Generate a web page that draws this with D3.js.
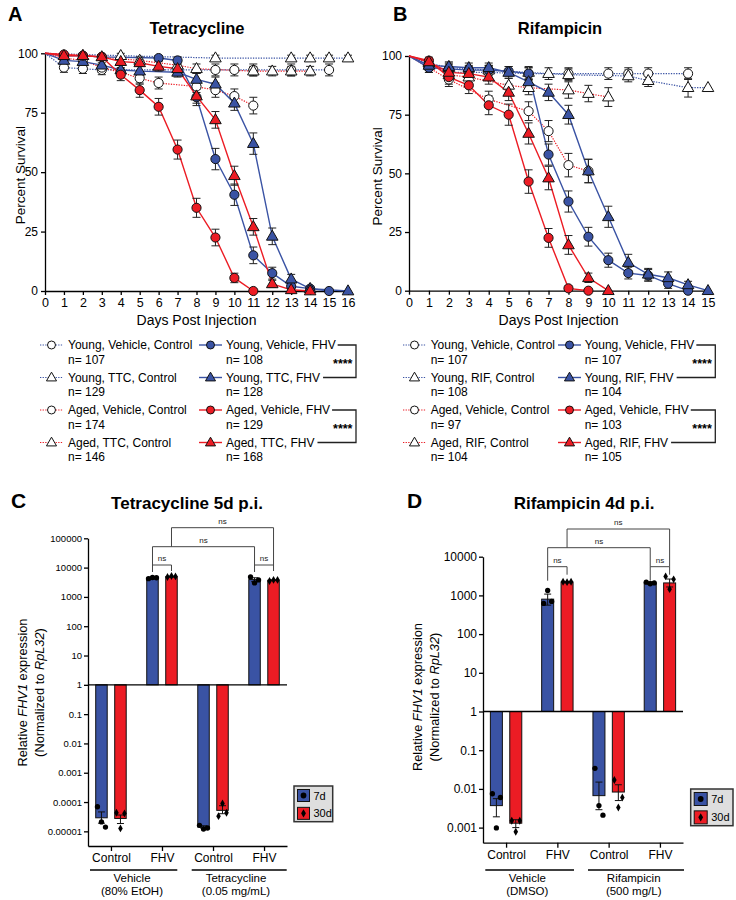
<!DOCTYPE html>
<html>
<head>
<meta charset="utf-8">
<script src="https://cdn.jsdelivr.net/npm/d3@7"></script>
<style>
body { margin: 0; background: #fff; }
svg { font-family: "Liberation Sans", Arial, Helvetica, sans-serif; }
</style>
</head>
<body>
<svg id="fig" width="736" height="900"></svg>
<script>
// ---------- data: survival curves, [day, % survival, error] ----------
var tetYoungVehCtrl = [[0,100,0],[1,94,2],[2,93.5,2],[3,93,2],[9,93,2.5],[10,93,2.5],[11,93,2.5],[13,93,2.5],[15,93,2.5]];
var tetYoungTtcCtrl = [[0,100,0],[4,99,1],[9,98,1.2],[13,98,1.2],[14,98,1.2],[15,98,1.2],[16,98,1.2]];
var tetAgedVehCtrl  = [[0,100,0],[1,98,1],[2,97,1.5],[3,94,2],[4,92,2],[5,89.5,2.5],[6,87.5,2.5],[8,86,2.5],[9,84.5,3],[10,82,3],[11,78,3.5]];
var tetAgedTtcCtrl  = [[0,100,0],[2,99,1],[5,97,1.5],[7,95,2],[8,93.5,2],[11,92.5,2],[12,92.5,2],[13,92.5,2],[14,92.5,2]];
var tetYoungVehFhv  = [[0,100,0],[1,99,1],[2,99,1],[3,98.5,1],[6,98,1],[7,97,1.5],[8,81.5,3.5],[9,55.5,4.5],[10,40.5,4.5],[11,15,3.5],[12,7.5,2.5],[13,2,1.5],[14,1,1],[15,0,0]];
var tetYoungTtcFhv  = [[0,100,0],[1,97,1.5],[2,96.5,1.5],[3,95,2],[4,93,2],[5,92.5,2],[7,92,2],[8,89,2.5],[9,87,3],[10,79,3],[11,62,4.5],[12,23,3.5],[13,5,2],[14,1,1],[16,0,0]];
var tetAgedVehFhv   = [[0,100,0],[1,99.5,0.5],[2,99,1],[3,98.5,1],[4,91,2.5],[5,84.5,3],[6,77.5,3.5],[7,59.5,4],[8,35,4],[9,22.5,3.5],[10,5.5,2],[11,0,0]];
var tetAgedTtcFhv   = [[0,100,0],[1,99,1],[2,99,1],[3,98.5,1],[4,96.5,1.5],[5,96,1.5],[6,94.5,2],[7,93.5,2],[8,82,3],[9,72,3.5],[10,48.5,4],[11,27,3.5],[12,3,1.5],[13,0.5,0.5],[14,0,0]];

var rifYoungVehCtrl = [[0,100,0],[1,96,2],[2,93,2.5],[3,93,2.5],[4,93,2.5],[6,92.5,2.5],[8,92.5,2.5],[10,92.5,2.5],[11,92.5,2.5],[12,92.5,2.5],[14,92.5,2.5]];
var rifYoungRifCtrl = [[0,100,0],[1,97,1.5],[2,95,2],[4,94,2],[6,93,2.5],[7,92.5,2.5],[8,92,2.5],[11,91.5,2.5],[12,89.5,2.5],[14,86.5,4],[15,86.5,0]];
var rifAgedVehCtrl  = [[0,100,0],[1,95,2],[2,90,3],[4,81.5,3.5],[6,76.5,4],[7,68,4.5],[8,53.5,5],[9,51,5]];
var rifAgedRifCtrl  = [[0,100,0],[1,97,1.5],[2,92,2.5],[3,91,2.5],[5,87.5,3],[6,86.5,3],[8,85.5,3.5],[9,84,3.5],[10,82.5,4]];
var rifYoungVehFhv  = [[0,100,0],[1,95,2],[2,94.5,2],[3,94,2],[4,94,2],[5,93.5,2],[6,92.5,2.5],[7,58,4.5],[8,38,4.5],[9,23,4],[10,13,3],[11,7.5,2.5],[12,6.5,2.5],[13,3,2],[14,0,0]];
var rifYoungRifFhv  = [[0,100,0],[1,96,2],[2,95.5,2],[3,95,2],[4,95,2],[5,93,2.5],[6,89,3],[7,84.5,3.5],[8,75,4],[9,51,5],[10,31.5,4.5],[11,12,3.5],[12,7,2.5],[13,5.5,2.5],[14,2.5,1.5],[15,0,0]];
var rifAgedVehFhv   = [[0,100,0],[1,98,1.5],[2,91,3],[3,87.5,3.5],[4,79,4],[5,75,4.5],[6,46.5,5],[7,22.5,4],[8,1,1],[9,0,0]];
var rifAgedRifFhv   = [[0,100,0],[1,97.5,1.5],[2,93,2.5],[3,92.5,2.5],[4,91,3],[5,84.5,3.5],[6,67,4.5],[7,48,5],[8,19.5,4],[9,5.5,2],[10,0,0]];

var tetLabels = ["Young, Vehicle, Control","Young, TTC, Control","Aged, Vehicle, Control","Aged, TTC, Control",
                 "Young, Vehicle, FHV","Young, TTC, FHV","Aged, Vehicle, FHV","Aged, TTC, FHV"];
var tetN = [107,129,174,146,108,128,129,168];
var rifLabels = ["Young, Vehicle, Control","Young, RIF, Control","Aged, Vehicle, Control","Aged, RIF, Control",
                 "Young, Vehicle, FHV","Young, RIF, FHV ","Aged, Vehicle, FHV","Aged, RIF, FHV"];
var rifN = [107,108,97,104,107,104,103,105];

// ---------- data: qPCR bars ----------
var barCats = ["Control","FHV","Control","FHV"];
var tetGroups = [["Vehicle","(80% EtOH)"],["Tetracycline","(0.05 mg/mL)"]];
var rifGroups = [["Vehicle","(DMSO)"],["Rifampicin","(500 mg/L)"]];
var tetTickLabels = ["100000","10000","1000","100","10","1","0.1","0.01","0.001","0.0001","0.00001"];
var rifTickLabels = ["10000","1000","100","10","1","0.1","0.01","0.001"];

var tet7d  = [2.9e-5, 4400, 1.4e-5, 3900];
var tet30d = [2.75e-5, 4900, 5.2e-5, 3700];
var tet7dErr  = [[1.9e-5,4.6e-5],[4100,4700],[1.3e-5,1.55e-5],[3300,4500]];
var tet30dErr = [[1.85e-5,3.6e-5],[4700,5100],[4e-5,7.5e-5],[3600,3800]];
var tet7dPts  = [[6.9e-5,2.1e-5,1.4e-5],[4200,4600,4500],[1.6e-5,1.2e-5,1.3e-5],[4800,3000,3800]];
var tet30dPts = [[4.3e-5,1.26e-5,4.1e-5],[4800,5200,5000],[3.3e-5,8.9e-5,4.3e-5],[3500,3800,3800]];

var rif7d  = [0.0037, 800, 0.0067, 2100];
var rif30d = [0.0013, 2200, 0.0083, 2100];
var rif7dErr  = [[0.0019,0.0056],[560,1080],[0.0029,0.015],[1950,2250]];
var rif30dErr = [[0.001,0.0016],[2100,2300],[0.005,0.0128],[1650,2650]];
var rif7dPts  = [[0.0075,0.00098,0.006],[620,1340,700],[0.034,0.0037,0.0021],[2200,2000,2100]];
var rif30dPts = [[0.0015,0.00078,0.0015],[2250,2200,2250],[0.017,0.0033,0.006],[3100,1450,2600]];

// ---------- styling ----------
var blue = "#3a53a4", red = "#ec1c24";
var svg = d3.select("#fig");

var survStyle = [
  {color: blue, sym: d3.symbolCircle,   ctrl: true},
  {color: blue, sym: d3.symbolTriangle, ctrl: true},
  {color: red,  sym: d3.symbolCircle,   ctrl: true},
  {color: red,  sym: d3.symbolTriangle, ctrl: true},
  {color: blue, sym: d3.symbolCircle,   ctrl: false},
  {color: blue, sym: d3.symbolTriangle, ctrl: false},
  {color: red,  sym: d3.symbolCircle,   ctrl: false},
  {color: red,  sym: d3.symbolTriangle, ctrl: false}
];

function symPath(type, big) {
  var s = type === d3.symbolCircle ? (big ? 66 : 50) : (big ? 58 : 44);
  return d3.symbol().type(type).size(s)();
}

function styleAxis(a, fs) {
  a.select(".domain").attr("stroke", "#000").attr("stroke-width", 1.3);
  a.selectAll(".tick line").attr("stroke", "#000").attr("stroke-width", 1.3);
  a.selectAll(".tick text").attr("fill", "#000").style("font-size", fs + "px")
    .style("font-family", '"Liberation Sans", Arial, sans-serif');
}

function drawSurvival(p) {
  var x = d3.scaleLinear().domain([0, p.maxDay]).range([p.x0, p.x1]);
  var y = d3.scaleLinear().domain([0, 100]).range([p.yb, p.yt]);
  var g = svg.append("g");

  var ax = g.append("g").attr("transform", "translate(0," + p.yb + ")")
    .call(d3.axisBottom(x).tickValues(d3.range(0, p.maxDay + 1)).tickSize(4).tickSizeOuter(0).tickPadding(3));
  styleAxis(ax, 12.5);
  var ay = g.append("g").attr("transform", "translate(" + p.x0 + ",0)")
    .call(d3.axisLeft(y).tickValues([0, 25, 50, 75, 100]).tickSize(4).tickSizeOuter(0).tickPadding(3));
  styleAxis(ay, 12);

  var line = d3.line().x(function(d){ return x(d[0]); }).y(function(d){ return y(d[1]); });
  p.series.forEach(function(s, i) {
    var st = survStyle[i];
    g.append("path").attr("d", line(s)).attr("fill", "none")
      .attr("stroke", st.color).attr("stroke-width", st.ctrl ? 1.2 : 1.4)
      .attr("stroke-dasharray", st.ctrl ? "1.3,1.3" : null);
  });
  p.series.forEach(function(s) {
    s.filter(function(d){ return d[2] > 0; }).forEach(function(d) {
      var cx = x(d[0]), y1 = y(d[1] - d[2]), y2 = y(Math.min(100, d[1] + d[2]));
      g.append("path").attr("d", "M" + cx + "," + y1 + "V" + y2 + "M" + (cx - 4) + "," + y1 + "H" + (cx + 4) + "M" + (cx - 4) + "," + y2 + "H" + (cx + 4))
        .attr("stroke", "#222").attr("stroke-width", 1).attr("fill", "none");
    });
  });
  p.series.forEach(function(s, i) {
    var st = survStyle[i];
    g.selectAll(null).data(s.filter(function(d){ return d[0] > 0; })).enter().append("path")
      .attr("d", symPath(st.sym, true))
      .attr("transform", function(d){ return "translate(" + x(d[0]) + "," + (y(d[1]) + (st.sym === d3.symbolTriangle ? 0.5 : 0)) + ")"; })
      .attr("fill", st.ctrl ? "#fff" : st.color)
      .attr("stroke", "#111").attr("stroke-width", 1);
  });

  g.append("text").attr("x", p.letterX).attr("y", 21).attr("font-size", 20).attr("font-weight", "bold").text(p.letter);
  g.append("text").attr("x", p.titleX).attr("y", 34).attr("text-anchor", "middle")
    .attr("font-size", 16.5).attr("font-weight", "bold").text(p.title);
  g.append("text").attr("transform", "translate(" + p.ylabX + "," + ((p.yb + p.yt) / 2 + 3) + ") rotate(-90)")
    .attr("text-anchor", "middle").attr("font-size", 13.5).text("Percent Survival");
  g.append("text").attr("x", (p.x0 + p.x1) / 2).attr("y", 325).attr("text-anchor", "middle")
    .attr("font-size", 14).text("Days Post Injection");

  // legend
  var rowsY = [345, 377.5, 410, 442.5];
  var ends = [];
  p.labels.forEach(function(lab, i) {
    var st = survStyle[i], col = i < 4 ? 0 : 1, ry = rowsY[i % 4];
    var lx = p.legX[col];
    g.append("line").attr("x1", lx).attr("x2", lx + 23).attr("y1", ry).attr("y2", ry)
      .attr("stroke", st.color).attr("stroke-width", st.ctrl ? 1.2 : 1.4)
      .attr("stroke-dasharray", st.ctrl ? "1.3,1.3" : null);
    g.append("path").attr("d", symPath(st.sym, false))
      .attr("transform", "translate(" + (lx + 11.5) + "," + (ry + (st.sym === d3.symbolTriangle ? 0.5 : 0)) + ")")
      .attr("fill", st.ctrl ? "#fff" : st.color).attr("stroke", "#111").attr("stroke-width", 1);
    var t = g.append("text").attr("x", p.legTextX[col]).attr("y", ry + 4.3).attr("font-size", 12).text(lab);
    g.append("text").attr("x", p.legTextX[col]).attr("y", ry + 18.8).attr("font-size", 12).text("n= " + p.ns[i]);
    ends[i] = p.legTextX[col] + t.node().getComputedTextLength();
  });
  [[4, 5], [6, 7]].forEach(function(pr) {
    var ya = rowsY[pr[0] % 4], yb2 = rowsY[pr[1] % 4];
    g.append("path").attr("d", "M" + (ends[pr[0]] + 2) + "," + ya + "H" + p.brX + "V" + yb2 + "H" + (ends[pr[1]] + 3))
      .attr("fill", "none").attr("stroke", "#222").attr("stroke-width", 1.3);
    g.append("text").attr("x", p.brX - 3.5).attr("y", (ya + yb2) / 2 + 7).attr("text-anchor", "end")
      .attr("font-size", 12.5).attr("font-weight", "bold").text("****");
  });
}

drawSurvival({
  x0: 45, x1: 348, yb: 291, yt: 53.3, maxDay: 16,
  series: [tetYoungVehCtrl, tetYoungTtcCtrl, tetAgedVehCtrl, tetAgedTtcCtrl, tetYoungVehFhv, tetYoungTtcFhv, tetAgedVehFhv, tetAgedTtcFhv],
  letter: "A", letterX: 8, title: "Tetracycline", titleX: 197, ylabX: 25,
  labels: tetLabels, ns: tetN, legX: [40, 199], legTextX: [68, 226], brX: 356
});
drawSurvival({
  x0: 409, x1: 708, yb: 290.7, yt: 56, maxDay: 15,
  series: [rifYoungVehCtrl, rifYoungRifCtrl, rifAgedVehCtrl, rifAgedRifCtrl, rifYoungVehFhv, rifYoungRifFhv, rifAgedVehFhv, rifAgedRifFhv],
  letter: "B", letterX: 393, title: "Rifampicin", titleX: 560, ylabX: 382,
  labels: rifLabels, ns: rifN, legX: [403, 558], legTextX: [430.7, 584.7], brX: 715.3
});

// ---------- bar charts ----------
function drawBars(p) {
  var ticks = p.tickLabels.map(Number);
  var y = d3.scaleLog().domain(p.yDomain).range([p.yb, p.yt]);
  var x = d3.scalePoint().domain(d3.range(barCats.length)).range([p.xl, p.xr]).padding(0.45);
  var g = svg.append("g");
  var sets = [{v: p.v7, e: p.e7, pts: p.p7, off: -p.off, color: blue, sym: d3.symbolCircle},
              {v: p.v30, e: p.e30, pts: p.p30, off: p.off, color: red, sym: d3.symbolDiamond}];

  sets.forEach(function(s) {
    g.selectAll(null).data(s.v).enter().append("rect")
      .attr("x", function(d, i){ return x(i) + s.off - p.bw / 2; })
      .attr("y", function(d){ return Math.min(y(d), y(1)); })
      .attr("width", p.bw)
      .attr("height", function(d){ return Math.abs(y(d) - y(1)); })
      .attr("fill", s.color).attr("stroke", "#111").attr("stroke-width", 1);
  });
  sets.forEach(function(s) {
    s.e.forEach(function(e, i) {
      var cx = x(i) + s.off, y1 = y(e[0]), y2 = y(e[1]);
      g.append("path").attr("d", "M" + cx + "," + y1 + "V" + y2 + "M" + (cx - 3.5) + "," + y1 + "H" + (cx + 3.5) + "M" + (cx - 3.5) + "," + y2 + "H" + (cx + 3.5))
        .attr("stroke", "#111").attr("stroke-width", 1).attr("fill", "none");
    });
    s.pts.forEach(function(arr, i) {
      arr.forEach(function(v, j) {
        g.append("path").attr("d", d3.symbol().type(s.sym).size(s.sym === d3.symbolCircle ? 22 : 18)())
          .attr("transform", "translate(" + (x(i) + s.off + (j - 1) * 4) + "," + y(v) + ")")
          .attr("fill", "#000");
      });
    });
  });
  // baseline at 1
  g.append("line").attr("x1", p.xl).attr("x2", p.xr).attr("y1", y(1)).attr("y2", y(1))
    .attr("stroke", "#000").attr("stroke-width", 1.3);

  var ay = g.append("g").attr("transform", "translate(" + p.xl + ",0)")
    .call(d3.axisLeft(y).tickValues(ticks).tickFormat(function(d, i){ return p.tickLabels[i]; }).tickSize(4).tickSizeOuter(0).tickPadding(2));
  styleAxis(ay, p.tickFs);
  var ax = g.append("g").attr("transform", "translate(0," + p.yb + ")")
    .call(d3.axisBottom(x).tickFormat(function(i){ return barCats[i]; }).tickSize(5).tickSizeOuter(0).tickPadding(p.xPad));
  styleAxis(ax, 12);

  p.groupLines.forEach(function(gl, k) {
    g.append("line").attr("x1", gl[0]).attr("x2", gl[1]).attr("y1", 870).attr("y2", 870)
      .attr("stroke", "#000").attr("stroke-width", 1.3);
    var cx = p.groupX[k];
    g.append("text").attr("x", cx).attr("y", 882).attr("text-anchor", "middle").attr("font-size", 11.5).text(p.groups[k][0]);
    g.append("text").attr("x", cx).attr("y", 895).attr("text-anchor", "middle").attr("font-size", 11.5).text(p.groups[k][1]);
  });

  // significance brackets
  function bracket(xa, xb, yy, la, lb) {
    g.append("path").attr("d", "M" + xa + "," + la + "V" + yy + "H" + xb + "V" + lb)
      .attr("fill", "none").attr("stroke", "#444").attr("stroke-width", 1);
    g.append("text").attr("x", (xa + xb) / 2).attr("y", yy - 4).attr("text-anchor", "middle")
      .attr("fill", "#222").attr("font-size", 8).text("ns");
  }
  var b7a = x(1) - p.off, b30a = x(1) + p.off, b7b = x(3) - p.off, b30b = x(3) + p.off;
  bracket(b7a, b30a, p.br[0], p.br[0] + p.legs[0], p.br[0] + p.legs[1]);
  bracket(b7b, b30b, p.br[0], p.br[0] + p.legs[0], p.br[0] + p.legs[1]);
  bracket(b7a, b7b, p.br[1], p.br[0], p.br[0]);
  bracket(b30a, b30b, p.br[2], p.br[1], p.br[0]);

  // legend
  var lg = p.leg;
  g.append("rect").attr("x", lg[0]).attr("y", lg[1]).attr("width", lg[2]).attr("height", lg[3])
    .attr("fill", "#dedede").attr("stroke", "#333").attr("stroke-width", 1.5);
  var sw = lg[4];
  [["7d", blue, d3.symbolCircle], ["30d", red, d3.symbolDiamond]].forEach(function(it, k) {
    var sy = lg[1] + 3.5 + k * (lg[3] / 2);
    g.append("rect").attr("x", lg[0] + 3.5).attr("y", sy).attr("width", sw).attr("height", sw)
      .attr("fill", it[1]).attr("stroke", "#111").attr("stroke-width", 1);
    g.append("path").attr("d", d3.symbol().type(it[2]).size(it[2] === d3.symbolCircle ? 26 : 20)())
      .attr("transform", "translate(" + (lg[0] + 3.5 + sw / 2) + "," + (sy + sw / 2) + ")").attr("fill", "#000");
    g.append("text").attr("x", lg[0] + 3.5 + sw + 4).attr("y", sy + sw / 2 + 4).attr("font-size", 11).text(it[0]);
  });

  // titles and labels
  g.append("text").attr("x", p.letterX).attr("y", 508).attr("font-size", 21).attr("font-weight", "bold").text(p.letter);
  g.append("text").attr("x", p.titleX).attr("y", 509).attr("text-anchor", "middle")
    .attr("font-size", 17).attr("font-weight", "bold").text(p.title);
  var yl = g.append("text").attr("transform", "translate(" + p.ylabX + "," + p.ylabY + ") rotate(-90)")
    .attr("text-anchor", "middle").attr("font-size", 12.8);
  yl.append("tspan").attr("x", 0).attr("y", 0).text("Relative ");
  yl.append("tspan").attr("font-style", "italic").text("FHV1");
  yl.append("tspan").text(" expression");
  yl.append("tspan").attr("x", 0).attr("y", 16.5).text("(Normalized to ");
  yl.append("tspan").attr("font-style", "italic").text("RpL32");
  yl.append("tspan").text(")");
}

drawBars({
  xl: 88, xr: 287, yb: 846, yt: 538.3, yDomain: [Math.pow(10, -5.5), 1e5],
  tickLabels: tetTickLabels, tickFs: 9.5, off: 9.5, bw: 11.5, xPad: 2,
  v7: tet7d, v30: tet30d, e7: tet7dErr, e30: tet30dErr, p7: tet7dPts, p30: tet30dPts,
  groups: tetGroups, groupLines: [[90, 177.3], [191.7, 286.7]], groupX: [132, 236],
  br: [565, 546.7, 527.7], legs: [7, 6],
  leg: [294, 786, 38.7, 35.7, 12],
  letter: "C", letterX: 11, title: "Tetracycline 5d p.i.", titleX: 187,
  ylabX: 27, ylabY: 692.5
});
drawBars({
  xl: 483, xr: 683, yb: 842.7, yt: 556.7, yDomain: [Math.pow(10, -3.39), 1e4],
  tickLabels: rifTickLabels, tickFs: 12, off: 9.7, bw: 12, xPad: 3,
  v7: rif7d, v30: rif30d, e7: rif7dErr, e30: rif30dErr, p7: rif7dPts, p30: rif30dPts,
  groups: rifGroups, groupLines: [[485.3, 574], [588, 684]], groupX: [527.3, 633.7],
  br: [566.7, 547.7, 529], legs: [14, 8],
  leg: [690.7, 789, 42.3, 36.7, 13],
  letter: "D", letterX: 407, title: "Rifampicin 4d p.i.", titleX: 584,
  ylabX: 422, ylabY: 697
});
</script>
</body>
</html>
